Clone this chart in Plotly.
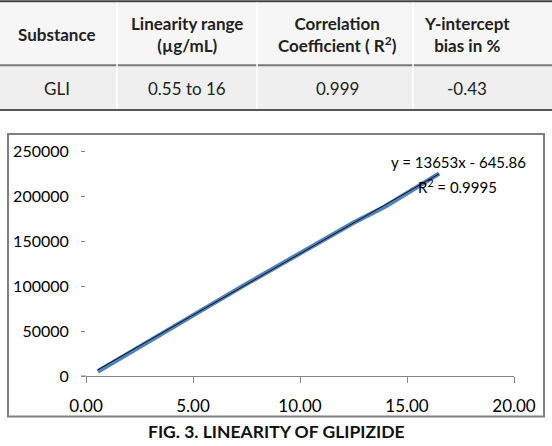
import plotly.graph_objects as go

# ---- Data ----
table_header = ["Substance", "Linearity range<br>(µg/mL)", "Correlation<br>Coefficient ( R<sup>2</sup>)", "Y-intercept<br>bias in %"]
table_row = ["GLI", "0.55 to 16", "0.999", "-0.43"]

conc = [0.55, 2.5, 5.0, 7.5, 10.0, 12.5, 14.0, 16.5]
area = [5000, 32800, 67300, 102300, 136300, 170300, 188600, 224800]

slope = 13653
intercept = -645.86
r2 = 0.9995
trend_x = [conc[0], conc[-1]]
trend_y = [slope * x + intercept for x in trend_x]

x_ticks = [0, 5, 10, 15, 20]
y_ticks = [0, 50000, 100000, 150000, 200000, 250000]

# ---- Layout helpers (pixel -> paper) ----
W, H = 552, 446
PL, PR, PT, PB = 86, 514, 151, 376.5


def px(x):
    return (x - PL) / (PR - PL)


def py(y):
    return (PB - y) / (PB - PT)


FONT = "Lato, Calibri, sans-serif"
AXC = "#868686"

fig = go.Figure()
fig.add_trace(go.Scatter(x=conc, y=area, mode="lines",
                         line=dict(color="#4f81bd", width=4.5), showlegend=False))
fig.add_trace(go.Scatter(x=trend_x, y=trend_y, mode="lines",
                         line=dict(color="#111111", width=1), showlegend=False))

shapes = []
# chart frame
shapes.append(dict(type="rect", xref="paper", yref="paper",
                   x0=px(8), x1=px(544), y0=py(417), y1=py(134),
                   line=dict(color="#808080", width=2), layer="below"))
# axis extension at left
shapes.append(dict(type="line", xref="paper", yref="paper",
                   x0=px(81), x1=px(86), y0=py(PB), y1=py(PB),
                   line=dict(color=AXC, width=1)))
# table backgrounds
shapes.append(dict(type="rect", xref="paper", yref="paper",
                   x0=px(0), x1=px(552), y0=py(1), y1=py(65),
                   fillcolor="#f6f6f6", line=dict(width=0), layer="below"))
shapes.append(dict(type="rect", xref="paper", yref="paper",
                   x0=px(0), x1=px(552), y0=py(65), y1=py(110),
                   fillcolor="#efefef", line=dict(width=0), layer="below"))
# table horizontal rules
for yy, c, w in [(1, "#444444", 2), (65, "#7a7a7a", 2), (110, "#555555", 2)]:
    shapes.append(dict(type="line", xref="paper", yref="paper",
                       x0=px(0), x1=px(552), y0=py(yy), y1=py(yy),
                       line=dict(color=c, width=w)))
# faint column dividers
for xx in [117, 257, 413]:
    shapes.append(dict(type="line", xref="paper", yref="paper",
                       x0=px(xx), x1=px(xx), y0=py(2), y1=py(109),
                       line=dict(color="#ffffff", width=1.5)))

ann = []
col_x = [57, 187, 337, 467]
for cx, t in zip(col_x, table_header):
    ann.append(dict(x=px(cx), y=py(34), xref="paper", yref="paper", text="<b>" + t + "</b>",
                    showarrow=False, font=dict(family=FONT, size=17, color="#222222"),
                    xanchor="center", yanchor="middle"))
for cx, t in zip(col_x, table_row):
    ann.append(dict(x=px(cx), y=py(88), xref="paper", yref="paper", text=t,
                    showarrow=False, font=dict(family=FONT, size=17, color="#222222"),
                    xanchor="center", yanchor="middle"))
# trendline equation
ann.append(dict(x=px(458), y=py(162), xref="paper", yref="paper",
                text=f"y = {slope}x - {abs(intercept):.2f}", showarrow=False,
                font=dict(family=FONT, size=15, color="#000000"), xanchor="center", yanchor="middle"))
ann.append(dict(x=px(457), y=py(187), xref="paper", yref="paper",
                text=f"R<sup>2</sup> = {r2}", showarrow=False,
                font=dict(family=FONT, size=15, color="#000000"), xanchor="center", yanchor="middle"))
# figure caption
ann.append(dict(x=px(276), y=py(432), xref="paper", yref="paper",
                text="<b>FIG. 3. LINEARITY OF GLIPIZIDE</b>", showarrow=False,
                font=dict(family=FONT, size=17.5, color="#111111"), xanchor="center", yanchor="middle"))

fig.update_layout(
    width=W, height=H,
    margin=dict(l=PL, r=W - PR, t=PT, b=H - PB, pad=0),
    paper_bgcolor="white", plot_bgcolor="white",
    font=dict(family=FONT, size=16, color="#000000"),
    shapes=shapes, annotations=ann,
    xaxis=dict(range=[0, 20], tickvals=x_ticks, tickformat=".2f",
               showgrid=False, zeroline=False, showline=True, linecolor=AXC, linewidth=1,
               ticks="outside", ticklen=6, tickcolor=AXC, tickfont=dict(size=17),
               ticklabelstandoff=9),
    yaxis=dict(range=[0, 250000], tickvals=y_ticks, tickformat="d",
               showgrid=False, zeroline=False, showline=False,
               ticks="outside", ticklen=4, tickcolor=AXC, tickfont=dict(size=16),
               ticklabelstandoff=9),
)

fig.write_html("out.html")
